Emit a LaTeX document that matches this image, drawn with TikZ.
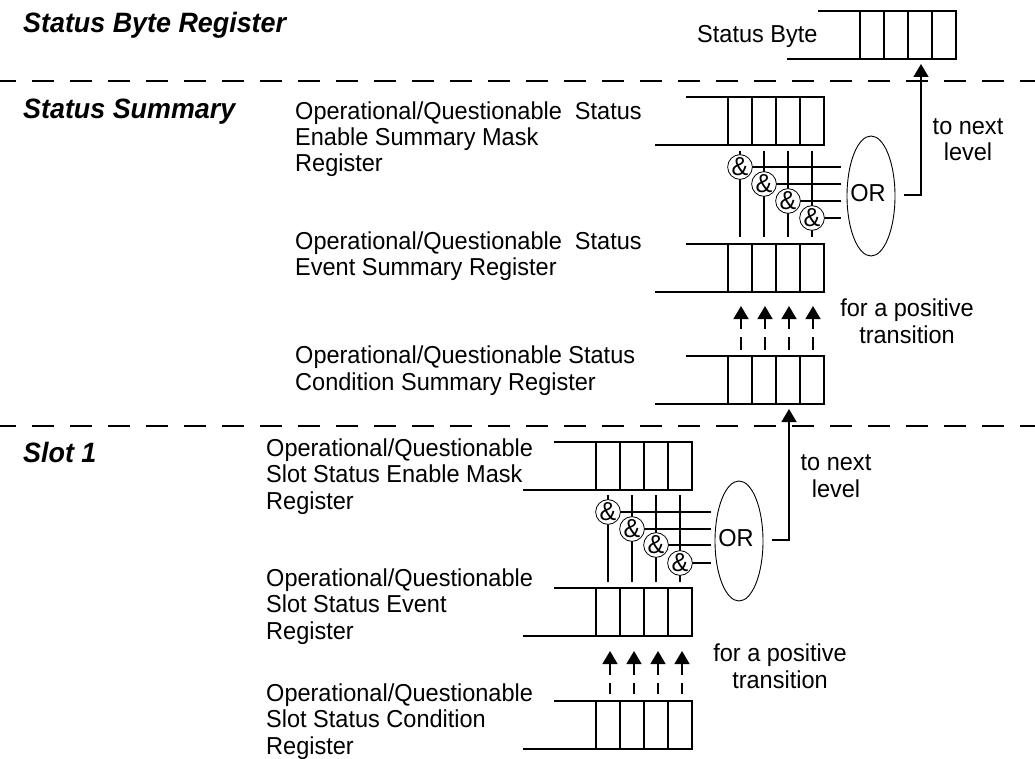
\documentclass[tikz,border=0pt]{standalone}
\usepackage{fontspec}
\setmainfont[FakeStretch=0.96]{Liberation Sans}
\usetikzlibrary{arrows.meta,shapes.geometric}
\tikzset{
 x=1pt,y=-1pt,
 regline/.style={line width=1.6pt,line cap=butt},
 sep/.style={line width=1.6pt,dash pattern=on 22pt off 16pt},
 wire/.style={line width=1.5pt},
 andgate/.style={circle,draw,line width=.8pt,fill=white,minimum size=24pt,inner sep=0pt,font=\fontsize{26}{26}\selectfont},
 orgate/.style={ellipse,draw,line width=.9pt,minimum width=48pt,minimum height=120pt,inner sep=0pt},
 up/.style={line width=1.5pt,-{Triangle[length=13pt,width=15pt]}},
 lbl/.style={font=\fontsize{24.5}{26.4}\selectfont,align=left,anchor=base west,inner sep=0pt},
 ctr/.style={font=\fontsize{24.5}{26.4}\selectfont,align=center,anchor=base,inner sep=0pt},
 ttl/.style={font=\fontsize{28}{28}\selectfont\bfseries\itshape,anchor=base west,inner sep=0pt},
 ortxt/.style={font=\fontsize{24.5}{24.5}\selectfont,inner sep=0pt},
}
% #1 name, #2 x of first cell line, #3 top y, #4 bottom y
\newcommand{\regbox}[4]{%
 \coordinate (#1tl) at (#2-42,#3);
 \coordinate (#1bl) at (#2-73,#4);
 \coordinate (#1tr) at (#2+96,#3);
 \coordinate (#1br) at (#2+96,#4);
 \draw[regline,line join=miter] (#1tl) -- (#1tr) -- (#1br) -- (#1bl);
 \foreach \i in {0,24,48,72}{\draw[regline] (#2+\i,#3) -- (#2+\i,#4);}
}
% #1 name prefix, #2 x of first line, #3 y top, #4 y bottom, #5..#8 y circle, #9 x end
\newcommand{\gates}[9]{%
 \coordinate (#1e1) at (#9,#5);
 \coordinate (#1e2) at (#9,#6);
 \coordinate (#1e3) at (#9,#7);
 \coordinate (#1e4) at (#9,#8);
 \foreach \k/\yy in {1/#5,2/#6,3/#7,4/#8}{
  \pgfmathsetmacro{\xx}{#2+24*(\k-1)}
  \coordinate (#1t\k) at (\xx,#3);
  \coordinate (#1b\k) at (\xx,#4);
  \draw[wire] (#1t\k) -- (#1b\k);
 }
 \foreach \k/\yy in {1/#5,2/#6,3/#7,4/#8}{
  \pgfmathsetmacro{\xx}{#2+24*(\k-1)}
  \coordinate (#1c\k) at (\xx,\yy);
  \draw[wire] (#1c\k) -- (#1e\k);
 }
 \foreach \k/\yy in {1/#5,2/#6,3/#7,4/#8}{
  \pgfmathsetmacro{\xx}{#2+24*(\k-1)}
  \node[andgate] (#1g\k) at (\xx,\yy) {\&};
 }
}
% #1 name, #2 x first, #3 tip y, #4 solid end, #5 dash top, #6 dash bottom
\newcommand{\transarrows}[6]{%
 \foreach \k in {1,2,3,4}{
  \pgfmathsetmacro{\xx}{#2+24*(\k-1)}
  \coordinate (#1a\k) at (\xx,#3);
  \coordinate (#1s\k) at (\xx,#4);
  \coordinate (#1d\k) at (\xx,#5);
  \coordinate (#1f\k) at (\xx,#6);
  \draw[up] (#1s\k) -- (#1a\k);
  \draw[wire] (#1f\k) -- (#1d\k);
 }
}
\begin{document}
\begin{tikzpicture}
\useasboundingbox (0,0) rectangle (1035,759);
\clip (0,0) rectangle (1035,759);
\coordinate (s1a) at (-6,81); \coordinate (s1b) at (1040,81);
\coordinate (s2a) at (-6,426); \coordinate (s2b) at (1040,426);
\draw[sep] (s1a) -- (s1b);
\draw[sep] (s2a) -- (s2b);
\node[ttl] (t1) at (23,33) {Status Byte Register};
\node[ttl] (t2) at (23,119) {Status Summary};
\node[ttl] (t3) at (23,462) {Slot 1};
\node[lbl] (l0) at (697,43) {Status Byte};
\node[lbl] (l1) at (295,172) {Operational/Questionable\ \ Status\\Enable Summary Mask\\Register};
\node[lbl] (l2) at (295,275.5) {Operational/Questionable\ \ Status\\Event Summary Register};
\node[lbl] (l3) at (295,390) {Operational/Questionable Status\\Condition Summary Register};
\node[lbl] (l4) at (266,509) {Operational/Questionable\\Slot Status Enable Mask\\Register};
\node[lbl] (l5) at (266,639) {Operational/Questionable\\Slot Status Event\\Register};
\node[lbl] (l6) at (266,754) {Operational/Questionable\\Slot Status Condition\\Register};
\node[ctr] (n1) at (968,161) {to next\\level};
\node[ctr] (n2) at (836,497) {to next\\level};
\node[ctr] (p1) at (907,343) {for a positive\\transition};
\node[ctr] (p2) at (780,688) {for a positive\\transition};
\regbox{r0}{860}{11}{59}
\regbox{r1}{728}{97}{145}
\regbox{r2}{728}{244}{292}
\regbox{r3}{728}{356}{404}
\regbox{r4}{596}{442}{490}
\regbox{r5}{596}{588}{636}
\regbox{r6}{596}{701}{749}
\gates{a}{740}{151}{237}{167}{184}{201}{218}{841}
\gates{b}{608}{495}{582}{512}{529}{545}{563}{711}
\node[orgate] (or1) at (871,196) {};
\node[ortxt] (or1t) at (868,193) {OR};
\node[orgate] (or2) at (739,541) {};
\node[ortxt] (or2t) at (736,538) {OR};
\coordinate (o1s) at (904,195); \coordinate (o1c) at (921,195); \coordinate (o1e) at (921,64);
\coordinate (o2s) at (772,540); \coordinate (o2c) at (789,540); \coordinate (o2e) at (789,409);
\draw[up,line join=miter] (o1s) -- (o1c) -- (o1e);
\draw[up,line join=miter] (o2s) -- (o2c) -- (o2e);
\transarrows{u}{741}{306}{329}{337}{350}
\transarrows{v}{610}{651}{675}{683}{694}
\end{tikzpicture}
\end{document}
